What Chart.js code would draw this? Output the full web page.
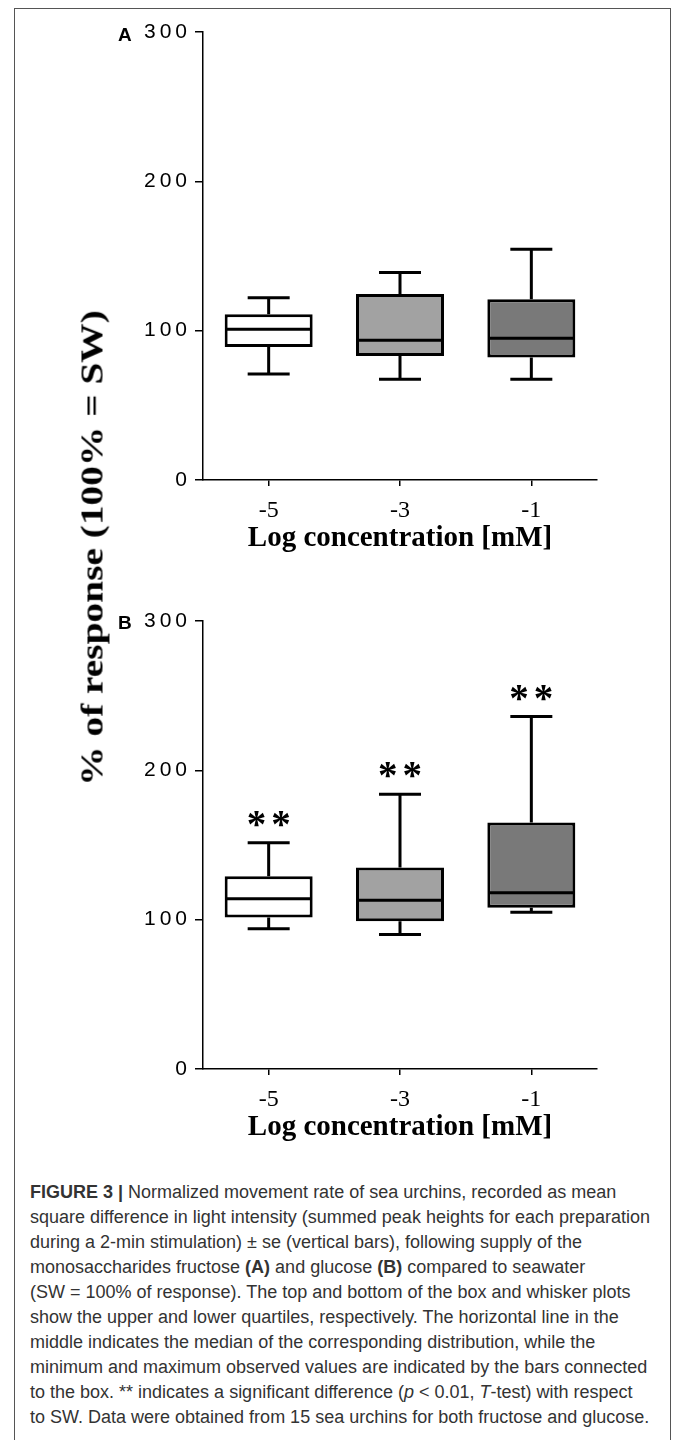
<!DOCTYPE html>
<html>
<head>
<meta charset="utf-8">
<script src="https://cdn.jsdelivr.net/npm/chart.js@4.4.0/dist/chart.umd.min.js"></script>
<style>
  body { margin: 0; background: #fff; width: 673px; height: 1440px; position: relative; overflow: hidden; }
  .frame { position: absolute; left: 14px; top: 8px; width: 655px; height: 1460px; border: 1px solid #555; }
  canvas { position: absolute; left: 0; }
  #chartA { top: 0; }
  #chartB { top: 589px; }
  .panel-letter { position: absolute; left: 118px; font: bold 19px "Liberation Sans", Arial, sans-serif; line-height: 20px; }
  #yTitle {
    position: absolute; left: 92px; top: 548px; white-space: nowrap;
    font: bold 31px "Liberation Serif", "Times New Roman", serif; line-height: 31px;
    transform: translate(-50%, -50%) rotate(-90deg);
  }
  .caption {
    position: absolute; left: 30px; top: 1180px; white-space: nowrap;
    font: 18px "Liberation Sans", Arial, sans-serif; line-height: 25px;
    color: #333;
  }
</style>
</head>
<body>
<div class="frame"></div>
<canvas id="chartA" width="673" height="570"></canvas>
<canvas id="chartB" width="673" height="570"></canvas>
<div class="panel-letter" style="top:25px">A</div>
<div class="panel-letter" style="top:613px">B</div>
<div id="yTitle">% of response (100% = SW)</div>
<div class="caption">
<b>FIGURE 3 |</b> Normalized movement rate of sea urchins, recorded as mean<br>
square difference in light intensity (summed peak heights for each preparation<br>
during a 2-min stimulation) ± se (vertical bars), following supply of the<br>
monosaccharides fructose <b>(A)</b> and glucose <b>(B)</b> compared to seawater<br>
(SW = 100% of response). The top and bottom of the box and whisker plots<br>
show the upper and lower quartiles, respectively. The horizontal line in the<br>
middle indicates the median of the corresponding distribution, while the<br>
minimum and maximum observed values are indicated by the bars connected<br>
to the box. ** indicates a significant difference (<i>p</i> &lt; 0.01, <i>T</i>-test) with respect<br>
to SW. Data were obtained from 15 sea urchins for both fructose and glucose.
</div>
<script>
// Categories and tick values
const categories = ['-5', '-3', '-1'];
const yTicks = [0, 100, 200, 300];
const boxColors = ['#ffffff', '#a2a2a2', '#797979'];

// Fructose (panel A)
const fructoseMin = [71, 67.5, 67.5];
const fructoseQ1 = [89, 83, 82];
const fructoseMedian = [101, 93.5, 95];
const fructoseQ3 = [111, 124.5, 121];
const fructoseMax = [122, 139, 154.5];
const fructoseMarks = ['', '', ''];

// Glucose (panel B)
const glucoseMin = [94, 90, 105];
const glucoseQ1 = [101.5, 99, 108];
const glucoseMedian = [114, 113, 118];
const glucoseQ3 = [129, 135, 165];
const glucoseMax = [151.5, 184, 236];
const glucoseMarks = ['**', '**', '**'];

const serif = '"Liberation Serif", "Times New Roman", serif';
const sans = '"Liberation Sans", Arial, sans-serif';

// Stretch the shared y title to the length it has in the figure
const yTitle = document.querySelector('#yTitle');
const titleScale = 475 / yTitle.offsetWidth;
yTitle.style.transform = 'translate(-50%, -50%) rotate(-90deg) scaleX(' + titleScale + ')';

// Whiskers, medians and significance marks, placed with the chart scales
function whiskerPlugin(stats) {
    return {
        id: 'whiskers',
        beforeDraw(chart) {
            // spaced digits on the y axis labels
            chart.ctx.letterSpacing = '4px';
        },
        beforeDatasetsDraw(chart) {
            chart.ctx.letterSpacing = '0px';
        },
        afterDatasetsDraw(chart) {
            const ctx = chart.ctx;
            const xScale = chart.scales.x;
            const yScale = chart.scales.y;
            const bars = chart.getDatasetMeta(0).data;
            const capHalf = 21;

            ctx.save();
            ctx.strokeStyle = '#000';
            ctx.lineWidth = 3;
            categories.forEach((c, i) => {
                const cx = xScale.getPixelForValue(i);
                const half = bars[i].width / 2;
                const yMin = yScale.getPixelForValue(stats.min[i]);
                const yQ1 = yScale.getPixelForValue(stats.q1[i]);
                const yMed = yScale.getPixelForValue(stats.median[i]);
                const yQ3 = yScale.getPixelForValue(stats.q3[i]);
                const yMax = yScale.getPixelForValue(stats.max[i]);

                ctx.beginPath();
                ctx.moveTo(cx, yQ3);
                ctx.lineTo(cx, yMax);
                ctx.moveTo(cx - capHalf, yMax);
                ctx.lineTo(cx + capHalf, yMax);
                ctx.moveTo(cx, yQ1);
                ctx.lineTo(cx, yMin);
                ctx.moveTo(cx - capHalf, yMin);
                ctx.lineTo(cx + capHalf, yMin);
                ctx.moveTo(cx - half + 1.5, yMed);
                ctx.lineTo(cx + half - 1.5, yMed);
                ctx.stroke();

                if (stats.marks[i]) {
                    ctx.letterSpacing = '5px';
                    ctx.font = 'bold 39px ' + serif;
                    ctx.fillStyle = '#000';
                    ctx.textAlign = 'center';
                    ctx.textBaseline = 'alphabetic';
                    ctx.fillText(stats.marks[i], cx + 2.5, yMax - 6);
                    ctx.letterSpacing = '0px';
                }
            });
            ctx.restore();
        }
    };
}

function makeChart(id, stats) {
    return new Chart(document.querySelector(id), {
        type: 'bar',
        data: {
            labels: categories,
            datasets: [{
                data: stats.q1.map((v, i) => [v, stats.q3[i]]),
                backgroundColor: boxColors,
                borderColor: '#000',
                borderWidth: 3,
                borderSkipped: false,
                barPercentage: 0.67,
                categoryPercentage: 1
            }]
        },
        options: {
            responsive: false,
            animation: false,
            events: [],
            layout: { padding: { left: 143, right: 76, top: 32, bottom: 0 } },
            plugins: {
                legend: { display: false },
                tooltip: { enabled: false }
            },
            scales: {
                x: {
                    offset: true,
                    // x axis drawn after the boxes so the y digit spacing is already reset
                    grid: { offset: false, drawOnChartArea: false, tickLength: 6, color: '#000', lineWidth: 1.5, z: 1 },
                    border: { color: '#000', width: 1.5, z: 1 },
                    ticks: { font: { family: serif, size: 24 }, color: '#000', padding: 10, maxRotation: 0, z: 1 },
                    title: {
                        display: true,
                        text: 'Log concentration [mM]',
                        font: { family: serif, size: 29, weight: 'bold' },
                        color: '#000',
                        padding: { top: 0, bottom: 14 }
                    },
                    afterFit: (scale) => { scale.height = 90; }
                },
                y: {
                    min: 0,
                    max: 300,
                    afterBuildTicks: (scale) => { scale.ticks = yTicks.map(v => ({ value: v })); },
                    grid: { drawOnChartArea: false, tickLength: 8, color: '#000', lineWidth: 1.5 },
                    border: { color: '#000', width: 1.5 },
                    ticks: { font: { family: sans, size: 21 }, color: '#000', padding: 4 },
                    afterFit: (scale) => { scale.width = 60; }
                }
            }
        },
        plugins: [whiskerPlugin(stats)]
    });
}

makeChart('#chartA', {
    min: fructoseMin, q1: fructoseQ1, median: fructoseMedian,
    q3: fructoseQ3, max: fructoseMax, marks: fructoseMarks
});
makeChart('#chartB', {
    min: glucoseMin, q1: glucoseQ1, median: glucoseMedian,
    q3: glucoseQ3, max: glucoseMax, marks: glucoseMarks
});
</script>
</body>
</html>
